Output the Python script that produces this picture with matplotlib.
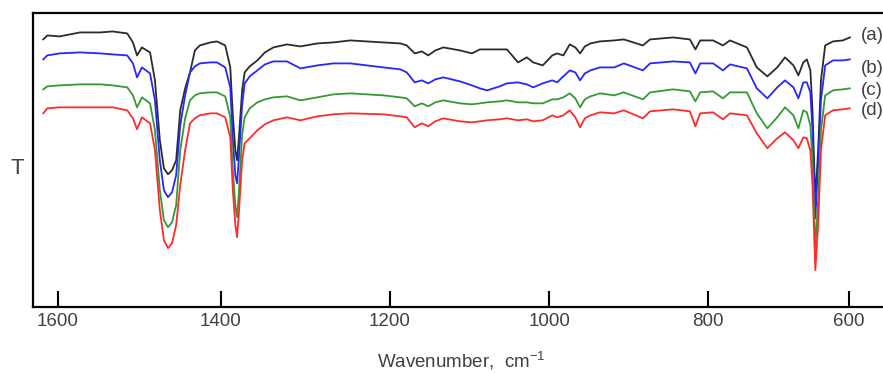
import numpy as np
import matplotlib
matplotlib.use('Agg')
import matplotlib.pyplot as plt

plt.rcParams['font.family'] = ['Liberation Sans', 'DejaVu Sans']
plt.rcParams['mathtext.fontset'] = 'custom'
plt.rcParams['mathtext.rm'] = 'Liberation Sans'

# wavenumber grid (cm-1) shared by all four spectra
wavenumber = [1618, 1613, 1598, 1573, 1548, 1533, 1515, 1508, 1503, 1497,
              1487, 1481, 1475, 1470, 1465, 1460, 1455, 1450, 1444, 1438,
              1432, 1426, 1413, 1405, 1395, 1389, 1386, 1383, 1381, 1379,
              1375, 1372, 1366, 1357, 1348, 1338, 1322, 1306, 1286, 1267,
              1247, 1208, 1187, 1179, 1169, 1160, 1152, 1143, 1133, 1112,
              1097, 1087, 1078, 1062, 1053, 1039, 1028, 1020, 1008, 996,
              990, 982, 974, 967, 961, 955, 948, 936, 918, 906,
              882, 873, 844, 823, 816, 810, 793, 779, 769, 745,
              731, 716, 702, 691, 679, 672, 665, 660, 655, 652,
              648, 644, 640, 634, 623, 609, 599]

# transmittance, arbitrary units, curves already offset as in the figure
t_a = [268, 272, 271, 275, 275, 276, 274, 265, 252, 260,
       255, 227, 167, 139, 133, 137, 147, 197, 219, 235,
       257, 262, 265, 266, 262, 240, 192, 157, 147, 167,
       217, 235, 241, 247, 255, 260, 263, 261, 264, 265,
       267, 265, 264, 262, 254, 256, 252, 257, 260, 257,
       254, 258, 258, 258, 258, 245, 250, 245, 242, 252,
       254, 252, 263, 260, 254, 261, 264, 266, 267, 268,
       262, 268, 270, 268, 258, 267, 267, 262, 267, 260,
       240, 231, 240, 250, 242, 232, 245, 248, 237, 197,
       107, 157, 227, 262, 266, 267, 270]

t_b = [248, 252, 254, 255, 254, 253, 252, 244, 230, 240,
       234, 207, 147, 117, 110, 115, 132, 182, 212, 235,
       241, 244, 245, 245, 240, 220, 167, 132, 124, 147,
       202, 224, 231, 237, 243, 246, 246, 239, 242, 244,
       244, 240, 238, 235, 225, 227, 224, 228, 230, 226,
       222, 219, 217, 221, 224, 225, 223, 220, 224, 227,
       225, 231, 237, 235, 227, 234, 237, 240, 240, 244,
       237, 244, 246, 245, 234, 244, 244, 237, 243, 239,
       219, 209, 220, 227, 220, 209, 225, 225, 215, 177,
       89, 142, 207, 242, 247, 247, 248]

t_c = [218, 221, 222, 223, 223, 222, 220, 212, 200, 210,
       204, 177, 117, 87, 80, 85, 102, 157, 189, 207,
       212, 214, 215, 215, 211, 190, 137, 102, 90, 112,
       172, 190, 199, 205, 208, 210, 211, 207, 210, 213,
       214, 212, 210, 209, 201, 204, 201, 205, 207, 204,
       203, 204, 205, 206, 207, 205, 205, 204, 204, 208,
       208, 210, 214, 209, 200, 208, 211, 214, 212, 215,
       208, 215, 218, 216, 206, 215, 216, 209, 215, 215,
       194, 179, 190, 200, 192, 179, 197, 195, 182, 147,
       59, 107, 177, 212, 217, 218, 219]

t_d = [194, 199, 200, 200, 200, 200, 197, 189, 178, 190,
       184, 157, 97, 67, 59, 64, 82, 122, 157, 184,
       189, 192, 194, 194, 190, 170, 117, 82, 70, 92,
       147, 164, 169, 177, 183, 187, 190, 187, 191, 193,
       194, 193, 191, 190, 180, 184, 181, 186, 189, 186,
       185, 186, 187, 188, 189, 187, 188, 186, 187, 192,
       190, 192, 197, 190, 180, 189, 192, 195, 194, 197,
       189, 196, 198, 196, 181, 194, 195, 188, 194, 192,
       174, 159, 169, 175, 167, 159, 170, 169, 157, 122,
       37, 82, 157, 192, 197, 198, 199]

labels = ['(a)', '(b)', '(c)', '(d)']
label_y = [272, 239, 217, 197]
colors = ['#2b2b2b', '#2626ff', '#359a35', '#ff2b2b']
xticks = [1600, 1400, 1200, 1000, 800, 600]

# the original axis is hand drawn and not quite linear: piecewise scale
# through the tick positions (pixel columns of the source figure)
scale_wn = [500, 600, 800, 1000, 1200, 1400, 1600, 1700]
scale_pos = [-919.5, -849, -708, -549, -390, -221, -58, 23.5]


def fwd(w):
    return np.interp(w, scale_wn, scale_pos)


def inv(p):
    return np.interp(p, scale_pos, scale_wn)


fig = plt.figure(figsize=(8.83, 3.74), dpi=100)
ax = fig.add_axes([0.037, 0.179, 0.971, 0.785])
ax.set_xscale('function', functions=(fwd, inv))

for t, c in zip([t_a, t_b, t_c, t_d], colors):
    ax.plot(wavenumber, t, color=c, linewidth=1.3)

for lab, y in zip(labels, label_y):
    ax.text(583, y, lab, fontsize=13.5, color='#404040', va='center', ha='left')

ax.set_xlim(1631, 542)
ax.set_ylim(0, 294)
ax.set_xticks(xticks)
ax.set_xticklabels([str(x) for x in xticks])
ax.tick_params(axis='x', direction='in', length=11.5, width=1.5, pad=4,
               labelsize=13.5, labelcolor='#404040', color='black')
ax.tick_params(axis='y', left=False, labelleft=False)
for s in ['left', 'bottom', 'top']:
    ax.spines[s].set_linewidth(1.6)
    ax.spines[s].set_color('black')
ax.spines['right'].set_visible(False)

ax.set_xlabel('Wavenumber,  cm$^{-1}$', fontsize=13.5, color='#404040', labelpad=14)
fig.text(17 / 883, 1 - 168 / 374, 'T', fontsize=16, color='#404040', ha='center', va='center')

fig.savefig('out.png', dpi=100)
plt.close()
